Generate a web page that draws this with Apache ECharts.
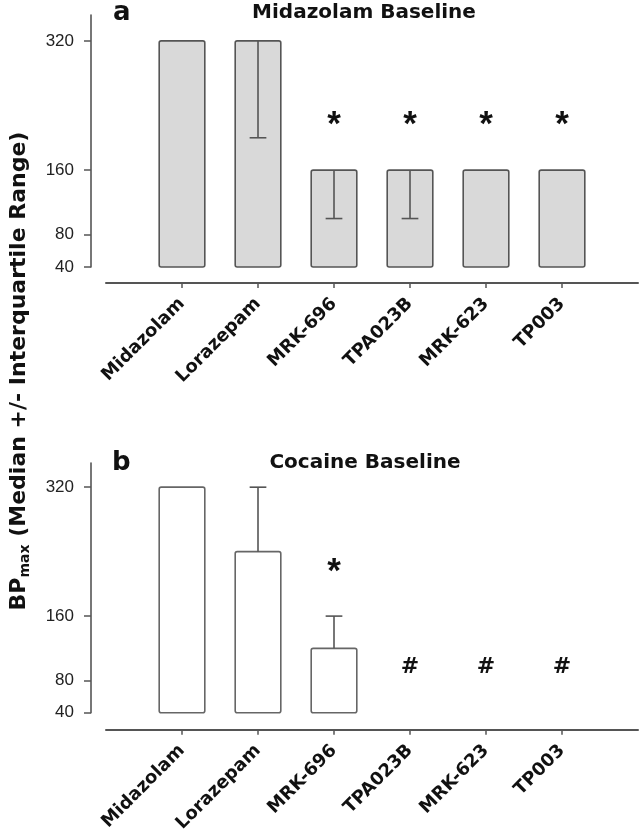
<!DOCTYPE html>
<html><head><meta charset="utf-8">
<script src="https://cdn.jsdelivr.net/npm/echarts@6/dist/echarts.min.js"></script>
<style>html,body{margin:0;padding:0;background:#fff}#c{width:643px;height:835px}</style>
</head><body><div id="c"></div>
<script>
// ---- data ----
const categories = ['Midazolam', 'Lorazepam', 'MRK-696', 'TPA023B', 'MRK-623', 'TP003'];
const yTicks = [40, 80, 160, 320];
const baseValue = 40;
// Panel a: Midazolam baseline (median, interquartile end)
const midMedian   = [320, 320, 160, 160, 160, 160];
const midQuartile = [null, 200, 100, 100, null, null];
const midMarks    = [null, null, '*', '*', '*', '*'];
const midMarkY    = [null, null, 215, 215, 215, 215];
// Panel b: Cocaine baseline
const cocMedian   = [320, 240, 120, null, null, null];
const cocQuartile = [null, 320, 160, null, null, null];
const cocMarks    = [null, null, '*', '#', '#', '#'];
const cocMarkY    = [null, null, 214, 97, 97, 97];

const catPos = categories.map((c, i) => i + 1);
const AX = '#555';

function barRender(fill, stroke) {
  return function (params, api) {
    const x = api.value(0), v = api.value(1);
    const top = api.coord([x, v]);
    const bot = api.coord([x, baseValue]);
    const w = api.size([1, 0])[0] * 0.6;
    return { type: 'rect', shape: { x: top[0] - w / 2, y: top[1], width: w, height: bot[1] - top[1], r: 2 },
      style: { fill: fill, stroke: stroke, lineWidth: 1.6 } };
  };
}
function errRender(params, api) {
  const x = api.value(0);
  const p1 = api.coord([x, api.value(1)]);
  const p2 = api.coord([x, api.value(2)]);
  const cap = api.size([1, 0])[0] * 0.22;
  return { type: 'group', children: [
    { type: 'line', shape: { x1: p1[0], y1: p1[1], x2: p2[0], y2: p2[1] }, style: { stroke: AX, lineWidth: 1.6 } },
    { type: 'line', shape: { x1: p2[0] - cap / 2, y1: p2[1], x2: p2[0] + cap / 2, y2: p2[1] }, style: { stroke: AX, lineWidth: 1.6 } }
  ] };
}
function markRender(marks) {
  return function (params, api) {
    const p = api.coord([api.value(0), api.value(1)]);
    const t = marks[api.value(2)];
    const isStar = t === '*';
    return { type: 'text', x: p[0], y: p[1],
      style: { text: t, font: isStar ? 'bold 35px "Liberation Sans"' : 'bold 22px "DejaVu Sans"', fill: '#111',
        align: 'center', verticalAlign: 'middle' } };
  };
}
function pairs(vals) {
  const out = [];
  vals.forEach((v, i) => { if (v != null) out.push([i + 1, v]); });
  return out;
}
function triples(a, b) {
  const out = [];
  a.forEach((v, i) => { if (v != null && b[i] != null) out.push([i + 1, a[i], b[i]]); });
  return out;
}
function markData(ys) {
  const out = [];
  ys.forEach((v, i) => { if (v != null) out.push([i + 1, v, i]); });
  return out;
}

function xAxis(gi, offset) {
  return {
    type: 'value', gridIndex: gi, min: 0, max: 7, offset: offset,
    axisLine: { show: true, onZero: false, lineStyle: { color: AX, width: 2 } },
    axisTick: { show: true, customValues: catPos, length: 5, lineStyle: { color: AX, width: 1.5 } },
    axisLabel: { customValues: catPos, formatter: v => categories[Math.round(v) - 1] || '', rotate: 45,
      fontFamily: 'DejaVu Sans', fontWeight: 'bold', fontSize: 18, color: '#111', margin: 18 },
    splitLine: { show: false }
  };
}
function yAxis(gi, max) {
  return {
    type: 'value', gridIndex: gi, min: 40, max: max, offset: 15,
    axisLine: { show: true, onZero: false, lineStyle: { color: AX, width: 1.6 } },
    axisTick: { show: true, customValues: yTicks, length: 7, lineStyle: { color: AX, width: 1.5 } },
    axisLabel: { customValues: yTicks, fontFamily: 'Liberation Sans', fontSize: 17, color: '#222', margin: 17 },
    splitLine: { show: false }
  };
}

const chart = echarts.init(document.getElementById('c'), null, { renderer: 'canvas' });
chart.setOption({
  backgroundColor: '#fff',
  animation: false,
  grid: [
    { left: 106, right: 5, top: 15, bottom: 568 },
    { left: 106, right: 5, top: 463, bottom: 122 }
  ],
  xAxis: [xAxis(0, 16), xAxis(1, 17)],
  yAxis: [yAxis(0, 352), yAxis(1, 350)],
  series: [
    { type: 'custom', xAxisIndex: 0, yAxisIndex: 0, renderItem: barRender('#d9d9d9', '#555'), data: pairs(midMedian) },
    { type: 'custom', xAxisIndex: 0, yAxisIndex: 0, renderItem: errRender, data: triples(midMedian, midQuartile) },
    { type: 'custom', xAxisIndex: 0, yAxisIndex: 0, renderItem: markRender(midMarks), data: markData(midMarkY) },
    { type: 'custom', xAxisIndex: 1, yAxisIndex: 1, renderItem: barRender('#ffffff', '#666'), data: pairs(cocMedian) },
    { type: 'custom', xAxisIndex: 1, yAxisIndex: 1, renderItem: errRender, data: triples(cocMedian, cocQuartile) },
    { type: 'custom', xAxisIndex: 1, yAxisIndex: 1, renderItem: markRender(cocMarks), data: markData(cocMarkY) }
  ],
  graphic: [
    { type: 'text', x: 113, y: 13, style: { text: 'a', font: 'bold 26px "DejaVu Sans"', fill: '#111', align: 'left', verticalAlign: 'middle' } },
    { type: 'text', x: 364, y: 13, style: { text: 'Midazolam Baseline', font: 'bold 20px "DejaVu Sans"', fill: '#111', align: 'center', verticalAlign: 'middle' } },
    { type: 'text', x: 112, y: 463, style: { text: 'b', font: 'bold 26px "DejaVu Sans"', fill: '#111', align: 'left', verticalAlign: 'middle' } },
    { type: 'text', x: 365, y: 463, style: { text: 'Cocaine Baseline', font: 'bold 20px "DejaVu Sans"', fill: '#111', align: 'center', verticalAlign: 'middle' } },
    { type: 'text', x: 19, y: 371, rotation: Math.PI / 2,
      style: { text: '{bp|BP}{sub|max}{m| (Median +/- Interquartile Range)}', align: 'center', verticalAlign: 'middle', fill: '#111',
        rich: {
          bp: { fontFamily: 'DejaVu Sans', fontWeight: 'bold', fontSize: 22, fill: '#111' },
          sub: { fontFamily: 'DejaVu Sans', fontWeight: 'bold', fontSize: 14, padding: [12, 0, 0, 0], fill: '#111' },
          m: { fontFamily: 'DejaVu Sans', fontWeight: 'bold', fontSize: 22, fill: '#111' }
        } } }
  ]
});
</script></body></html>
